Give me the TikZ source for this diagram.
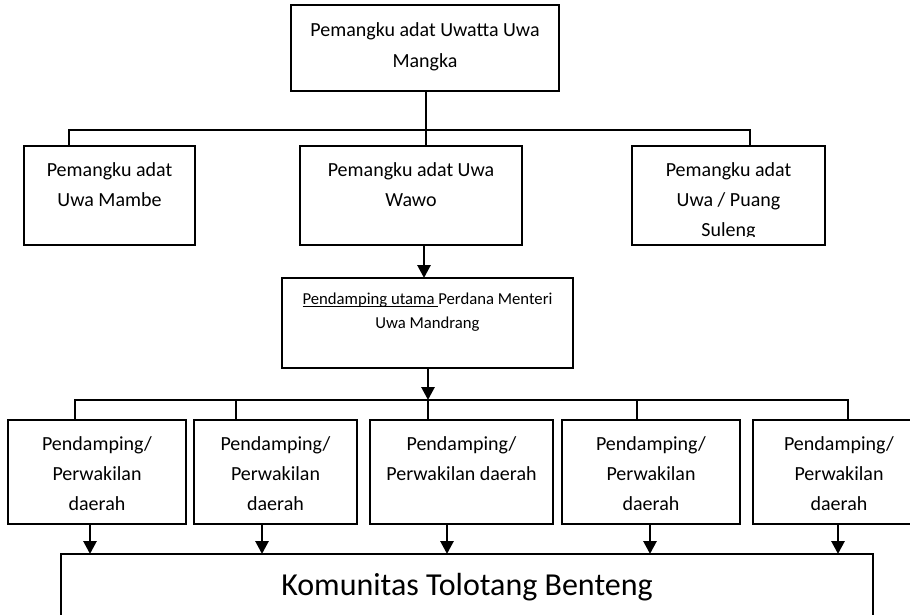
\documentclass[tikz,border=0pt]{standalone}
\usepackage{fontspec}
\setmainfont{Carlito}
\usetikzlibrary{arrows.meta}
\newcommand\myul[1]{\setbox0\hbox{#1}\rlap{\rule[-2.8pt]{\wd0}{0.9pt}}\box0}
\tikzset{
  box/.style={draw, line width=1.2pt, inner sep=0pt, outer sep=0pt},
  lbl/.style={anchor=north, inner sep=0pt, align=center, font=\fontsize{20}{30}\selectfont},
  conn/.style={line width=1.2pt},
  arr/.style={line width=2.8pt, -{Triangle[length=13pt,width=13pt]}},
}
\begin{document}
\begin{tikzpicture}[x=1pt,y=-1pt]
\clip (0,0) rectangle (910,615);
\fill[white] (0,0) rectangle (910,615);
% boxes
\node[box, minimum width=268pt, minimum height=86pt] (top) at (425,48) {};
\node[box, minimum width=171pt, minimum height=99pt] (ra) at (109.5,195.5) {};
\node[box, minimum width=222pt, minimum height=99pt] (rb) at (411,195.5) {};
\node[box, minimum width=193pt, minimum height=99pt] (rc) at (728.5,195.5) {};
\node[box, minimum width=291pt, minimum height=90pt] (pu) at (427.5,323) {};
\node[box, minimum width=178pt, minimum height=104pt] (pa) at (97,472) {};
\node[box, minimum width=163pt, minimum height=104pt] (pb) at (275.5,472) {};
\node[box, minimum width=183pt, minimum height=104pt] (pc) at (461.5,472) {};
\node[box, minimum width=178pt, minimum height=104pt] (pd) at (651,472) {};
\node[box, minimum width=172pt, minimum height=104pt] (pe) at (839,472) {};
\node[box, minimum width=812pt, minimum height=86pt] (kom) at (467,597) {};
% labels
\node[lbl, font=\fontsize{20}{31}\selectfont] (topt) at (425,16) {\rule{0pt}{20pt}Pemangku adat Uwatta Uwa\\Mangka};
\node[lbl] (rat) at (109.5,156) {\rule{0pt}{20pt}Pemangku adat\\Uwa Mambe};
\node[lbl] (rbt) at (411,156) {\rule{0pt}{20pt}Pemangku adat Uwa\\Wawo};
\begin{scope}
\clip (632,146) rectangle (825,236.5);
\node[lbl] (rct) at (728.5,156) {\rule{0pt}{20pt}Pemangku adat\\Uwa / Puang\\Suleng};
\end{scope}
\node[lbl, font=\fontsize{16.7}{24}\selectfont] (put) at (427.5,284) {\rule{0pt}{20pt}\myul{Pendamping utama }Perdana Menteri\\Uwa Mandrang};
\node[lbl] (pat) at (97,430) {\rule{0pt}{20pt}Pendamping/\\Perwakilan\\daerah};
\node[lbl] (pbt) at (275.5,430) {\rule{0pt}{20pt}Pendamping/\\Perwakilan\\daerah};
\node[lbl] (pct) at (461.5,430) {\rule{0pt}{20pt}Pendamping/\\Perwakilan daerah};
\node[lbl] (pdt) at (651,430) {\rule{0pt}{20pt}Pendamping/\\Perwakilan\\daerah};
\node[lbl] (pet) at (839,430) {\rule{0pt}{20pt}Pendamping/\\Perwakilan\\daerah};
\node[lbl, font=\fontsize{32}{38}\selectfont] (komt) at (467,570) {\rule{0pt}{25pt}Komunitas Tolotang Benteng};
% coordinates
\coordinate (c0) at (426,130);
\coordinate (b1L) at (69,130);
\coordinate (b1R) at (750,130);
\coordinate (a1) at (424,0);
\coordinate (b2) at (428,400);
\coordinate (b2L) at (75,400);
\coordinate (b2R) at (848,400);
\coordinate (d2) at (236,400);
\coordinate (d4) at (637,400);
\coordinate (e1) at (90,0);
\coordinate (e2) at (262,0);
\coordinate (e3) at (447,0);
\coordinate (e4) at (650,0);
\coordinate (e5) at (838,0);
% connectors
\draw[conn] (top.south -| c0) -- (rb.north -| c0);
\draw[conn] (ra.north -| b1L) -- (b1L) -- (b1R) -- (rc.north -| b1R);
\draw[arr] (rb.south -| a1) -- (pu.north -| a1);
\draw[arr] (pu.south -| b2) -- (b2);
\draw[conn] (b2) -- (pc.north -| b2);
\draw[conn] (pa.north -| b2L) -- (b2L) -- (b2R) -- (pe.north -| b2R);
\draw[conn] (d2) -- (pb.north -| d2);
\draw[conn] (d4) -- (pd.north -| d4);
\draw[arr] (pa.south -| e1) -- (kom.north -| e1);
\draw[arr] (pb.south -| e2) -- (kom.north -| e2);
\draw[arr] (pc.south -| e3) -- (kom.north -| e3);
\draw[arr] (pd.south -| e4) -- (kom.north -| e4);
\draw[arr] (pe.south -| e5) -- (kom.north -| e5);
\end{tikzpicture}
\end{document}
